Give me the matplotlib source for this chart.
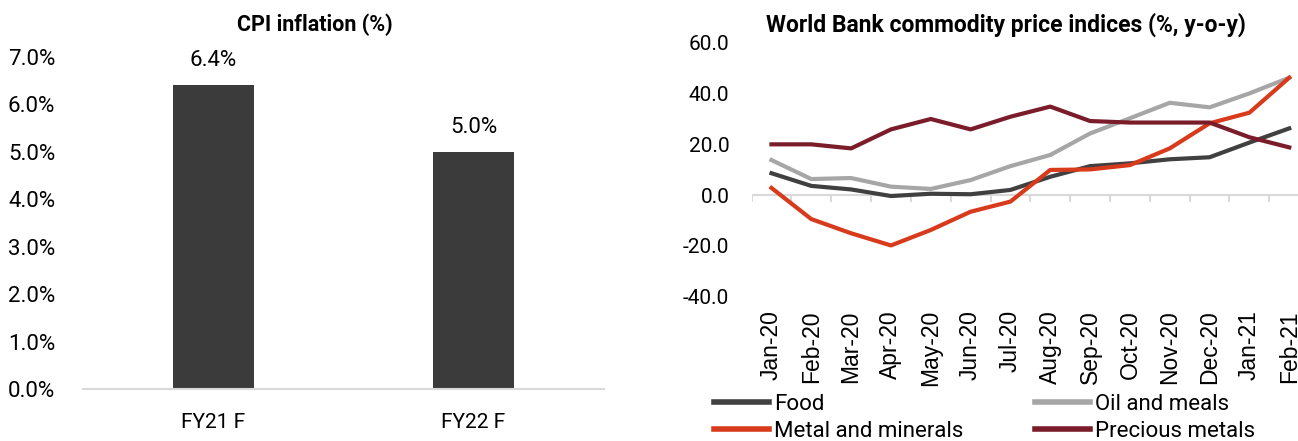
import numpy as np
import matplotlib
matplotlib.use('Agg')
import matplotlib.pyplot as plt

plt.rcParams['font.family'] = ['Roboto', 'DejaVu Sans']

# left chart: CPI inflation
cpi_labels = ['FY21 F', 'FY22 F']
cpi_values = [6.4, 5.0]

# right chart: World Bank commodity price indices, % y-o-y
months = ['Jan-20', 'Feb-20', 'Mar-20', 'Apr-20', 'May-20', 'Jun-20', 'Jul-20',
          'Aug-20', 'Sep-20', 'Oct-20', 'Nov-20', 'Dec-20', 'Jan-21', 'Feb-21']
food = [8.6, 3.6, 2.2, -0.4, 0.5, 0.3, 2.0, 7.2, 11.4, 12.5, 14.1, 14.9, 20.7, 26.3]
oil_meals = [13.8, 6.3, 6.7, 3.3, 2.4, 5.9, 11.4, 15.8, 24.3, 30.3, 36.4, 34.6, 40.1, 46.3]
metals = [2.8, -9.5, -15.1, -19.9, -13.8, -6.6, -2.6, 9.9, 10.1, 11.8, 18.4, 28.3, 32.5, 46.3]
precious = [20.0, 20.0, 18.4, 25.9, 30.0, 25.9, 30.9, 34.9, 29.2, 28.6, 28.6, 28.6, 22.8, 18.8]

grid_grey = '#d9d9d9'

fig = plt.figure(figsize=(12.98, 4.41), dpi=100)

# ---- CPI bars ----
ax1 = fig.add_axes([0.064, 0.118, 0.401, 0.753])
x1 = np.arange(len(cpi_labels))
bars = ax1.bar(x1, cpi_values, width=0.31, color='#3b3b3b')
for b, v in zip(bars, cpi_values):
    ax1.text(b.get_x() + b.get_width() / 2, v + 0.3, f'{v:.1f}%',
             ha='center', va='bottom', fontsize=16)
ax1.set_xlim(-0.5, 1.5)
ax1.set_ylim(0, 7)
ax1.set_yticks(np.arange(0, 7.5, 1))
ax1.set_yticklabels([f'{t:.1f}%' for t in np.arange(0, 7.5, 1)])
ax1.set_xticks(x1)
ax1.set_xticklabels(cpi_labels)
ax1.tick_params(axis='both', length=0, labelsize=15)
ax1.tick_params(axis='y', pad=20, labelsize=16)
ax1.tick_params(axis='x', pad=17)
for s in ['top', 'right', 'left']:
    ax1.spines[s].set_visible(False)
ax1.spines['bottom'].set_color(grid_grey)
ax1.spines['bottom'].set_linewidth(1.5)
fig.text(0.2427, 0.943, 'CPI inflation (%)', ha='center', va='center',
         fontsize=15.5, fontweight='bold')

# ---- commodity lines ----
ax2 = fig.add_axes([0.579, 0.328, 0.421, 0.5745])
x2 = np.arange(len(months))
ax2.axhline(0, color=grid_grey, lw=1.5, zorder=1)
ax2.vlines(np.arange(-0.5, len(months), 1), -2.6, 0, color=grid_grey, lw=1.5, zorder=1)
l_food, = ax2.plot(x2, food, color='#404040', lw=3, label='Food', zorder=3)
l_oil, = ax2.plot(x2, oil_meals, color='#a6a6a6', lw=3, label='Oil and meals', zorder=3)
l_met, = ax2.plot(x2, metals, color='#d83b1b', lw=3, label='Metal and minerals', zorder=3)
l_pre, = ax2.plot(x2, precious, color='#7b1c2a', lw=3, label='Precious metals', zorder=3)
ax2.set_xlim(-0.5, 13.22)
ax2.set_ylim(-40, 60)
ax2.set_yticks(np.arange(-40, 61, 20))
ax2.set_yticklabels([f'{t:.1f}' for t in np.arange(-40, 61, 20)])
ax2.set_xticks(x2)
ax2.set_xticklabels(months, rotation=90, family=['Liberation Sans', 'DejaVu Sans'])
ax2.tick_params(axis='both', length=0, labelsize=15)
ax2.tick_params(axis='x', pad=10, labelsize=16.5)
ax2.tick_params(axis='y', pad=16)
for s in ax2.spines.values():
    s.set_visible(False)
fig.text(0.59, 0.943, 'World Bank commodity price indices (%, y-o-y)', ha='left',
         va='center', fontsize=16.5, fontweight='bold')

# legend fills column-wise, so order handles to get Food / Oil on the first row
handles = [l_food, l_met, l_oil, l_pre]
fig.legend(handles, [h.get_label() for h in handles], ncol=2, loc='upper left',
           bbox_to_anchor=(0.550, 0.107), frameon=False, fontsize=16,
           handlelength=2.5, handletextpad=0.22, columnspacing=3.2,
           labelspacing=0.28, borderaxespad=0, borderpad=0)
for line in fig.legends[0].get_lines():
    line.set_linewidth(4)

fig.savefig('out.png', dpi=100)
